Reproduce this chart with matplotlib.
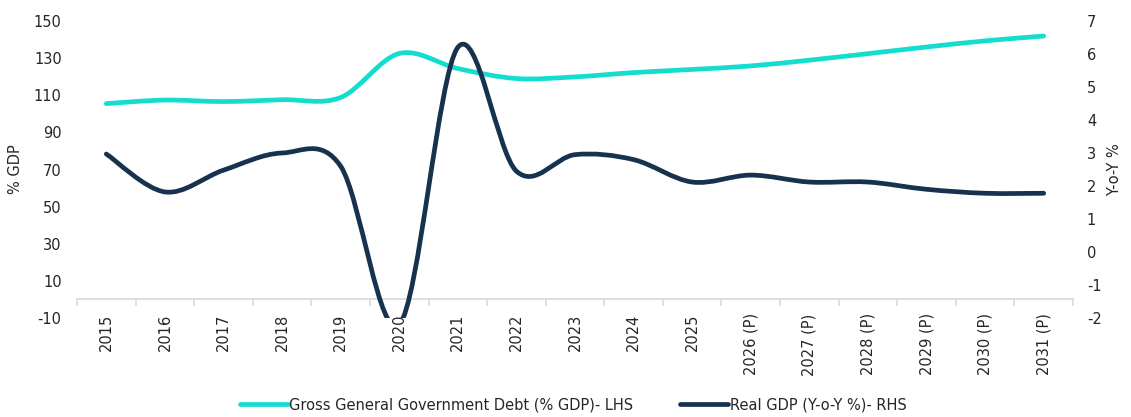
import numpy as np
import matplotlib
matplotlib.use("Agg")
import matplotlib.pyplot as plt
from matplotlib.path import Path
from matplotlib.patches import PathPatch
from matplotlib.lines import Line2D

years = ["2015", "2016", "2017", "2018", "2019", "2020", "2021", "2022", "2023",
         "2024", "2025", "2026 (P)", "2027 (P)", "2028 (P)", "2029 (P)",
         "2030 (P)", "2031 (P)"]
debt = [105.5, 107.4, 106.6, 107.6, 108.8, 132.5, 124.4, 119.0, 119.9,
        122.2, 123.9, 125.8, 128.9, 132.4, 136.0, 139.3, 141.9]
gdp = [2.97, 1.82, 2.48, 3.0, 2.6, -2.2, 6.2, 2.45, 2.95,
       2.8, 2.12, 2.33, 2.12, 2.12, 1.9, 1.78, 1.78]

TEAL = "#14DDD0"
NAVY = "#16324F"
TXT = "#262626"


def smooth_path(xs, ys):
    # Excel-style smoothed line: cubic bezier segments through every point
    pts = np.column_stack([xs, ys]).astype(float)
    n = len(pts)
    verts = [pts[0]]
    codes = [Path.MOVETO]
    for i in range(n - 1):
        p0 = pts[i - 1] if i > 0 else pts[i]
        p1 = pts[i]
        p2 = pts[i + 1]
        p3 = pts[i + 2] if i + 2 < n else pts[i + 1]
        c1 = p1 + (p2 - p0) / 6.0
        c2 = p2 - (p3 - p1) / 6.0
        verts += [c1, c2, p2]
        codes += [Path.CURVE4] * 3
    return Path(verts, codes)


plt.rcParams["font.family"] = ["DejaVu Sans"]
plt.rcParams["axes.unicode_minus"] = False
fig = plt.figure(figsize=(11.31, 4.17), dpi=100)
ax = fig.add_axes([77 / 1131, 1 - 318 / 417, (1073 - 77) / 1131, (318 - 21) / 417])
ax2 = ax.twinx()

x = np.arange(len(years))
ax.add_patch(PathPatch(smooth_path(x, debt), facecolor="none", edgecolor=TEAL,
                       lw=3.4, capstyle="round", joinstyle="round"))
ax2.add_patch(PathPatch(smooth_path(x, gdp), facecolor="none", edgecolor=NAVY,
                        lw=3.4, capstyle="round", joinstyle="round"))

ax.set_xlim(-0.5, len(years) - 0.5)
ax.set_ylim(-10, 150)
ax.set_yticks(np.arange(-10, 151, 20))
ax2.set_ylim(-2, 7)
ax2.set_yticks(np.arange(-2, 8, 1))

for a in (ax, ax2):
    for s in a.spines.values():
        s.set_visible(False)

ax.tick_params(axis="y", length=0, pad=11, labelsize=10.5, labelcolor=TXT)
ax2.tick_params(axis="y", length=0, pad=10, labelsize=10.5, labelcolor=TXT)
ax.set_ylabel("% GDP", fontsize=10.5, color=TXT, labelpad=8)
ax2.set_ylabel("Y-o-Y %", fontsize=10.5, color=TXT, labelpad=4)

# category axis crossing at 0 on the left scale
ax.set_xticks([])
sec = ax.secondary_xaxis(10 / 160)
sec.spines["bottom"].set_color("#D9D9D9")
sec.spines["bottom"].set_linewidth(1.2)
sec.set_xticks(x)
sec.set_xticklabels(years, rotation=90, fontsize=10.5, color=TXT, va="top", ha="center")
sec.set_xticks(np.arange(-0.5, len(years), 1), minor=True)
sec.tick_params(axis="x", which="major", length=0, pad=10)
sec.tick_params(axis="x", which="minor", length=5, width=1.2, color="#D9D9D9")

handles = [Line2D([], [], color=TEAL, lw=3.4, solid_capstyle="round"),
           Line2D([], [], color=NAVY, lw=3.4, solid_capstyle="round")]
fig.legend(handles, ["Gross General Government Debt (% GDP)- LHS", "Real GDP (Y-o-Y %)- RHS"],
           loc="center", bbox_to_anchor=(573 / 1131, 1 - 405 / 417), ncol=2, frameon=False,
           fontsize=10.5, handlelength=3.3, handletextpad=0.1, columnspacing=3.2,
           labelcolor=TXT)

fig.savefig("out.png", dpi=100)
